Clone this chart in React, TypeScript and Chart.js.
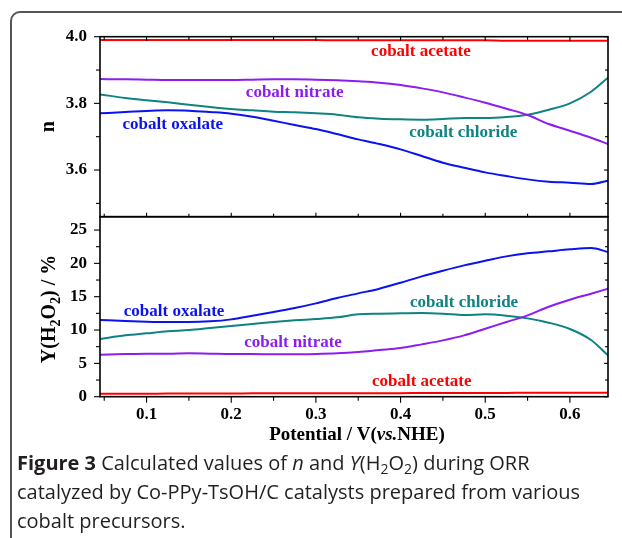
import React, { useEffect, useRef } from 'react';
import { Chart, registerables } from 'chart.js';

Chart.register(...registerables);

// ---------- data ----------
const potential = [0.045, 0.075, 0.1, 0.125, 0.15, 0.175, 0.2, 0.225, 0.25, 0.275, 0.3, 0.325, 0.35, 0.375, 0.4, 0.425, 0.45, 0.475, 0.5, 0.525, 0.55, 0.575, 0.6, 0.625, 0.645];

// electron transfer number n (top panel)
const nAcetate = [3.990, 3.990, 3.990, 3.990, 3.990, 3.990, 3.990, 3.990, 3.990, 3.990, 3.990, 3.989, 3.989, 3.989, 3.989, 3.989, 3.989, 3.989, 3.989, 3.988, 3.988, 3.988, 3.988, 3.988, 3.988];
const nNitrate = [3.873, 3.872, 3.871, 3.870, 3.870, 3.870, 3.870, 3.871, 3.872, 3.872, 3.871, 3.869, 3.866, 3.862, 3.855, 3.845, 3.833, 3.818, 3.802, 3.784, 3.765, 3.738, 3.718, 3.697, 3.678];
const nChloride = [3.827, 3.816, 3.809, 3.803, 3.796, 3.789, 3.783, 3.779, 3.775, 3.773, 3.770, 3.766, 3.758, 3.754, 3.752, 3.751, 3.753, 3.756, 3.756, 3.759, 3.766, 3.781, 3.800, 3.835, 3.877];
const nOxalate = [3.770, 3.774, 3.777, 3.779, 3.778, 3.774, 3.769, 3.760, 3.748, 3.735, 3.723, 3.708, 3.692, 3.678, 3.662, 3.642, 3.622, 3.607, 3.593, 3.582, 3.572, 3.565, 3.562, 3.558, 3.568];

// H2O2 yield, % (bottom panel)
const yAcetate = [0.45, 0.45, 0.45, 0.47, 0.47, 0.48, 0.48, 0.5, 0.5, 0.5, 0.5, 0.52, 0.52, 0.53, 0.53, 0.55, 0.55, 0.55, 0.57, 0.57, 0.58, 0.58, 0.6, 0.6, 0.6];
const yNitrate = [6.3, 6.4, 6.45, 6.45, 6.5, 6.45, 6.4, 6.4, 6.35, 6.35, 6.4, 6.5, 6.7, 7.0, 7.3, 7.85, 8.45, 9.2, 10.2, 11.2, 12.2, 13.5, 14.55, 15.45, 16.2];
const yChloride = [8.65, 9.2, 9.5, 9.8, 10.0, 10.3, 10.6, 10.9, 11.2, 11.45, 11.65, 11.9, 12.35, 12.45, 12.5, 12.55, 12.45, 12.25, 12.35, 12.15, 11.75, 11.1, 10.15, 8.5, 6.2];
const yOxalate = [11.5, 11.35, 11.25, 11.2, 11.2, 11.3, 11.6, 12.15, 12.7, 13.3, 14.0, 14.8, 15.5, 16.2, 17.1, 18.05, 18.9, 19.7, 20.4, 21.05, 21.5, 21.8, 22.1, 22.3, 21.7];

const seriesNames = ['cobalt acetate', 'cobalt nitrate', 'cobalt chloride', 'cobalt oxalate'];
const seriesColors = ['#ff0000', '#8c1df0', '#0f8282', '#0a12f0'];

// axes
const xMin = 0.045;
const xMax = 0.645;
const xTicks = [0.1, 0.2, 0.3, 0.4, 0.5, 0.6];
const xMinorTicks = [0.05, 0.15, 0.25, 0.35, 0.45, 0.55];
const nMin = 3.46;
const nMax = 4.0;
const nTicks = [3.6, 3.8, 4.0];
const nMinorTicks = [3.5, 3.7, 3.9];
const yMin = 0;
const yMax = 27;
const yTicks = [0, 5, 10, 15, 20, 25];
const yMinorTicks = [2.5, 7.5, 12.5, 17.5, 22.5];

// in-plot labels (same series order), positions in data units
const nLabelX = [0.424, 0.275, 0.474, 0.131];
const nLabelY = [3.954, 3.831, 3.711, 3.735];
const yLabelX = [0.425, 0.273, 0.475, 0.1325];
const yLabelY = [2.2, 8.05, 14.05, 12.7];

const SERIF = '"Liberation Serif", "Times New Roman", serif';

const pts = (ys: number[]) => ys.map((v, i) => ({ x: potential[i], y: v }));

type Run = { text: string; font: string; dy: number };

function drawRuns(ctx: CanvasRenderingContext2D, runs: Run[], cx: number, cy: number, rotate: boolean, color: string) {
  ctx.save();
  ctx.translate(cx, cy);
  if (rotate) ctx.rotate(-Math.PI / 2);
  ctx.fillStyle = color;
  ctx.textAlign = 'left';
  ctx.textBaseline = 'alphabetic';
  let total = 0;
  runs.forEach((r) => {
    ctx.font = r.font;
    total += ctx.measureText(r.text).width;
  });
  let xx = -total / 2;
  runs.forEach((r) => {
    ctx.font = r.font;
    ctx.fillText(r.text, xx, r.dy);
    xx += ctx.measureText(r.text).width;
  });
  ctx.restore();
}

const decorPlugin = {
  id: 'decor',
  afterDatasetsDraw(chart: any) {
    const ctx: CanvasRenderingContext2D = chart.ctx;
    const { left, right } = chart.chartArea;
    const sx = chart.scales.x;
    const sT = chart.scales.yT;
    const sB = chart.scales.yB;
    ctx.save();
    ctx.strokeStyle = '#000';
    ctx.lineWidth = 1.6;
    [sT, sB].forEach((s: any) => ctx.strokeRect(left, s.top, right - left, s.bottom - s.top));

    ctx.lineWidth = 1.1;
    const line = (x1: number, y1: number, x2: number, y2: number) => {
      ctx.beginPath();
      ctx.moveTo(x1, y1);
      ctx.lineTo(x2, y2);
      ctx.stroke();
    };
    const yTickSet = (s: any, major: number[], minor: number[]) => {
      major.forEach((v) => {
        const p = s.getPixelForValue(v);
        line(left - 6, p, left, p);
        line(right, p, right - 4, p);
      });
      minor.forEach((v) => {
        const p = s.getPixelForValue(v);
        line(left - 4, p, left, p);
        line(right, p, right - 3, p);
      });
    };
    yTickSet(sT, nTicks, nMinorTicks);
    yTickSet(sB, yTicks, yMinorTicks);
    xTicks.forEach((v) => {
      const p = sx.getPixelForValue(v);
      line(p, sB.bottom, p, sB.bottom + 6);
      line(p, sT.top, p, sT.top + 4);
      line(p, sT.bottom, p, sT.bottom - 4);
    });
    xMinorTicks.forEach((v) => {
      const p = sx.getPixelForValue(v);
      line(p, sB.bottom, p, sB.bottom + 4);
      line(p, sT.top, p, sT.top + 3);
      line(p, sT.bottom, p, sT.bottom - 3);
    });

    const tf = `bold 20px ${SERIF}`;
    const sf = `bold 14px ${SERIF}`;
    drawRuns(ctx, [{ text: 'n', font: tf, dy: 5 }], 49, (sT.top + sT.bottom) / 2, true, '#000');
    drawRuns(
      ctx,
      [
        { text: 'Y(H', font: tf, dy: 7 },
        { text: '2', font: sf, dy: 12 },
        { text: 'O', font: tf, dy: 7 },
        { text: '2', font: sf, dy: 12 },
        { text: ') / %', font: tf, dy: 7 },
      ],
      48,
      309,
      true,
      '#000'
    );
    const xf = `bold 19px ${SERIF}`;
    const xfi = `italic bold 19px ${SERIF}`;
    drawRuns(
      ctx,
      [
        { text: 'Potential / V(', font: xf, dy: 0 },
        { text: 'vs.', font: xfi, dy: 0 },
        { text: 'NHE)', font: xf, dy: 0 },
      ],
      (left + right) / 2 + 3,
      440,
      false,
      '#000'
    );

    ctx.font = `bold 17px ${SERIF}`;
    ctx.textAlign = 'center';
    ctx.textBaseline = 'middle';
    seriesNames.forEach((name, i) => {
      ctx.fillStyle = seriesColors[i];
      ctx.fillText(name, sx.getPixelForValue(nLabelX[i]), sT.getPixelForValue(nLabelY[i]));
      ctx.fillText(name, sx.getPixelForValue(yLabelX[i]), sB.getPixelForValue(yLabelY[i]));
    });
    ctx.restore();
  },
};

function ChartPanel() {
  const ref = useRef<HTMLCanvasElement | null>(null);
  useEffect(() => {
    if (!ref.current) return;
    const nSeries = [nAcetate, nNitrate, nChloride, nOxalate];
    const ySeries = [yAcetate, yNitrate, yChloride, yOxalate];
    const datasets: any[] = [];
    nSeries.forEach((s, i) =>
      datasets.push({ label: seriesNames[i] + ' n', data: pts(s), yAxisID: 'yT', borderColor: seriesColors[i], borderWidth: 2, pointRadius: 0, cubicInterpolationMode: 'monotone', fill: false })
    );
    ySeries.forEach((s, i) =>
      datasets.push({ label: seriesNames[i] + ' Y', data: pts(s), yAxisID: 'yB', borderColor: seriesColors[i], borderWidth: 2, pointRadius: 0, cubicInterpolationMode: 'monotone', fill: false })
    );
    const tickFont = { family: SERIF, size: 17, weight: 'bold' as const };
    const chart = new Chart(ref.current, {
      type: 'line',
      data: { datasets },
      plugins: [decorPlugin],
      options: {
        animation: false,
        responsive: false,
        layout: { padding: { top: 36.7, right: 14, left: 0, bottom: 0 } },
        plugins: { legend: { display: false }, tooltip: { enabled: false } },
        scales: {
          x: {
            type: 'linear',
            position: 'bottom',
            min: xMin,
            max: xMax,
            grid: { display: false, drawTicks: false },
            border: { display: false },
            afterBuildTicks: (s: any) => {
              s.ticks = xTicks.map((v) => ({ value: v }));
            },
            afterFit: (s: any) => {
              s.height = 450 - 396.7;
            },
            ticks: { font: tickFont, color: '#000', padding: 8, autoSkip: false, maxRotation: 0, callback: (v: any) => Number(v).toFixed(1) },
          },
          yB: {
            type: 'linear',
            position: 'left',
            stack: 'v',
            stackWeight: 1,
            min: yMin,
            max: yMax,
            grid: { display: false, drawTicks: false },
            border: { display: false },
            afterBuildTicks: (s: any) => {
              s.ticks = yTicks.map((v) => ({ value: v }));
            },
            afterFit: (s: any) => {
              s.width = 100;
            },
            ticks: { font: tickFont, color: '#000', padding: 13, autoSkip: false, callback: (v: any) => String(v) },
          },
          yT: {
            type: 'linear',
            position: 'left',
            stack: 'v',
            stackWeight: 1,
            min: nMin,
            max: nMax,
            grid: { display: false, drawTicks: false },
            border: { display: false },
            afterBuildTicks: (s: any) => {
              s.ticks = nTicks.map((v) => ({ value: v }));
            },
            afterFit: (s: any) => {
              s.width = 100;
            },
            ticks: { font: tickFont, color: '#000', padding: 13, autoSkip: false, callback: (v: any) => Number(v).toFixed(1) },
          },
        },
      } as any,
    });
    return () => chart.destroy();
  }, []);
  return <canvas ref={ref} width={622} height={450} style={{ position: 'absolute', left: 0, top: 0, width: 622, height: 450 }} />;
}

const subStyle: React.CSSProperties = { fontSize: '0.7em', verticalAlign: '-0.25em', lineHeight: 0 };

export default function App() {
  return (
    <div style={{ position: 'absolute', left: 0, top: 0, width: 622, height: 538, overflow: 'hidden', background: '#fff' }}>
      <div
        style={{
          position: 'absolute',
          left: 10,
          top: 11,
          width: 660,
          height: 600,
          border: '2px solid #555',
          borderRadius: 10,
          boxSizing: 'border-box',
        }}
      />
      <ChartPanel />
      <div
        style={{
          position: 'absolute',
          left: 17,
          top: 448,
          whiteSpace: 'nowrap',
          fontFamily: '"Open Sans", "Noto Sans", sans-serif',
          fontSize: 20,
          lineHeight: '29px',
          color: '#231f20',
        }}
      >
        <b>Figure 3</b> Calculated values of <i>n</i> and <i>Y</i>(H<sub style={subStyle}>2</sub>O<sub style={subStyle}>2</sub>) during ORR
        <br />
        catalyzed by Co-PPy-TsOH/C catalysts prepared from various
        <br />
        cobalt precursors.
      </div>
    </div>
  );
}
